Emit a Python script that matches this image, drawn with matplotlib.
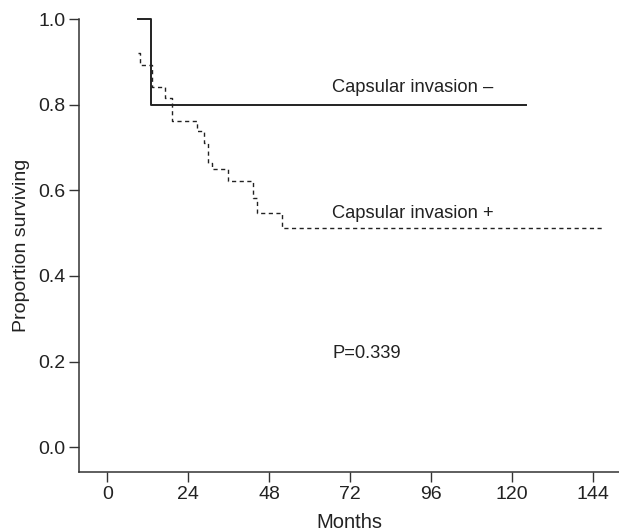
import numpy as np
import matplotlib.pyplot as plt

plt.rcParams['font.family'] = ['Liberation Sans', 'DejaVu Sans']

# Kaplan-Meier step data (months, proportion surviving)
neg_months = [9.2, 13.0, 124.2]
neg_surv = [1.0, 0.80, 0.80]

pos_months = [9.2, 9.8, 13.3, 17.2, 19.3, 26.7, 28.7, 29.9, 31.1, 35.9, 43.3, 44.4, 51.9, 147.0]
pos_surv = [0.921, 0.893, 0.841, 0.816, 0.762, 0.738, 0.710, 0.663, 0.649, 0.621, 0.582, 0.546, 0.511, 0.511]

x_ticks = [0, 24, 48, 72, 96, 120, 144]
y_ticks = [0.0, 0.2, 0.4, 0.6, 0.8, 1.0]
p_value = 0.339

fig = plt.figure(figsize=(6.19, 5.31), dpi=100)
ax = fig.add_axes([0.128, 0.111, 0.872, 0.853])

ax.step(neg_months, neg_surv, where='post', color='#222222', linewidth=1.4, clip_on=False)
ax.step(pos_months, pos_surv, where='post', color='#222222', linewidth=1.0,
        linestyle=(0, (3, 2.5)), clip_on=False)

ax.text(66.7, 0.84, 'Capsular invasion \u2013', fontsize=13.2, va='center', ha='left', color='#222222')
ax.text(66.7, 0.547, 'Capsular invasion +', fontsize=13.2, va='center', ha='left', color='#222222')
ax.text(66.7, 0.22, f'P={p_value}', fontsize=13.2, va='center', ha='left', color='#222222')

ax.set_xlim(-8.3, 151.7)
ax.set_ylim(-0.058, 1.0)
ax.set_xticks(x_ticks)
ax.set_yticks(y_ticks)
ax.set_yticklabels([f'{v:.1f}' for v in y_ticks])

for side in ['top', 'right']:
    ax.spines[side].set_visible(False)
for side in ['left', 'bottom']:
    ax.spines[side].set_color('#333333')
    ax.spines[side].set_linewidth(1.1)

ax.tick_params(axis='both', direction='out', length=7, width=1.0, color='#333333',
               labelsize=14, labelcolor='#222222', pad=3)
ax.set_xlabel('Months', fontsize=14.5, color='#222222', labelpad=7)
ax.set_ylabel('Proportion surviving', fontsize=14, color='#222222', labelpad=6)

fig.savefig('out.png', dpi=100)
